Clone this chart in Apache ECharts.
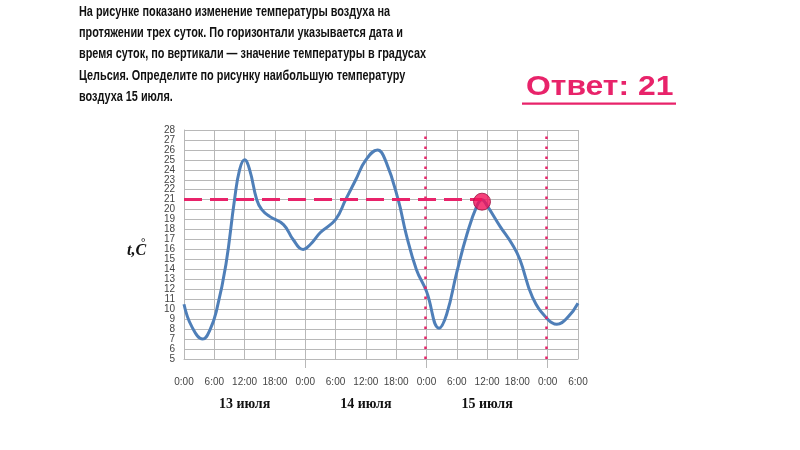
<!DOCTYPE html>
<html>
<head>
<meta charset="utf-8">
<script src="https://cdn.jsdelivr.net/npm/echarts@6/dist/echarts.min.js"></script>
<style>html,body{margin:0;padding:0;background:#fff}#c{width:800px;height:450px}</style>
</head>
<body>
<div id="c"></div>
<script>
// Data (hours since 0:00 13 July, temperature °C)
var hours = [0, 1.5, 3.7, 5.2, 6.5, 8.3, 10, 11, 12, 13, 14.4, 15.4, 17, 19.7, 21.6, 23.6, 25, 27, 30, 32, 34, 36, 38.3, 40, 42.4, 44, 46, 48, 50.5, 52, 54, 56, 58, 59, 60, 62.6, 65, 66.5, 69, 72, 73.8, 76, 78];
var temps = [10.5, 8.3, 7, 8, 10, 14.5, 21, 24, 25, 24, 21, 20, 19.3, 18.5, 17, 16, 16.5, 17.7, 19, 21, 23, 25, 26, 24.8, 21, 17.5, 14, 11.8, 8.1, 9.5, 13.7, 17.5, 20.4, 21, 20.4, 18.3, 16.5, 15, 11.2, 9, 8.5, 9.2, 10.6];
var answerPoint = [59, 20.8];
var answerValue = 21;
var dayBoundaries = [48, 72];
var dayLabels = ['13 июля', '14 июля', '15 июля'];
var dayLabelHours = [12, 36, 60];
var titleLines = [
  'На рисунке показано изменение температуры воздуха на',
  'протяжении трех суток. По горизонтали указывается дата и',
  'время суток, по вертикали — значение температуры в градусах',
  'Цельсия. Определите по рисунку наибольшую температуру',
  'воздуха 15 июля.'
];
var answerText = 'Ответ: 21';

var chart = echarts.init(document.getElementById('c'));
var pink = '#e8236a';
var series = [{
  type: 'line',
  data: hours.map(function (h, i) { return [h, temps[i]]; }),
  smooth: 0.45,
  showSymbol: false,
  lineStyle: { color: '#4f7fb8', width: 3 },
  z: 3,
  markLine: {
    silent: true,
    symbol: 'none',
    label: { show: false },
    data: [
      [{ coord: [0, answerValue] }, { coord: [answerPoint[0], answerValue] }]
    ],
    lineStyle: { color: pink, width: 3, type: [18, 8] },
    animation: false
  }
}, {
  type: 'line',
  data: [],
  markLine: {
    silent: true,
    symbol: 'none',
    label: { show: false },
    data: dayBoundaries.map(function (d) { return [{ coord: [d - 0.25, 5] }, { coord: [d - 0.25, 28] }]; }),
    lineStyle: { color: pink, width: 2.5, type: [2.5, 7.5] },
    animation: false
  }
}, {
  type: 'scatter',
  data: [answerPoint],
  symbolSize: 17,
  itemStyle: { color: '#f2105a', borderColor: '#9a1040', borderWidth: 1 },
  z: 5
}];

var graphics = [];
titleLines.forEach(function (t, i) {
  graphics.push({
    type: 'text', left: 79, top: 4 + i * 21.3, scaleX: 0.725,
    style: { text: t, font: 'bold 15px "Liberation Sans", Arial, sans-serif', fill: '#111' }
  });
});
graphics.push({
  type: 'text', left: 526, top: 74, scaleX: 1.18,
  style: { text: answerText, font: 'bold 27px "Liberation Sans", Arial, sans-serif', fill: pink }
});
graphics.push({
  type: 'rect', shape: { x: 522, y: 102.5, width: 154, height: 2.2 }, style: { fill: pink }
});
graphics.push({
  type: 'text', left: 127, top: 243,
  style: { text: 't,C', font: 'italic bold 16px "Liberation Serif", "DejaVu Serif", serif', fill: '#111' }
});
graphics.push({
  type: 'text', left: 141, top: 238,
  style: { text: '°', font: 'bold 11px "Liberation Serif", serif', fill: '#111' }
});

chart.setOption({
  animation: false,
  grid: { left: 184, right: 222, top: 130, bottom: 91 },
  xAxis: [{
    type: 'value', min: 0, max: 78, interval: 6,
    axisLine: { show: true, lineStyle: { color: '#b8b8b8', width: 1 } },
    axisTick: { show: false },
    splitLine: { show: true, lineStyle: { color: '#b8b8b8', width: 1 } },
    axisLabel: {
      margin: 18, fontSize: 10, color: '#444', fontFamily: 'Liberation Sans, Arial, sans-serif',
      formatter: function (v) { return (v % 24) + ':00'; }
    }
  }, {
    type: 'value', min: 0, max: 78, position: 'bottom',
    axisLine: { show: false },
    axisTick: { show: true, length: 9, customValues: [24, 48, 72], lineStyle: { color: '#b8b8b8' } },
    axisLabel: { show: true, margin: 38, fontSize: 14, fontWeight: 'bold', color: '#111', fontFamily: 'Liberation Serif, serif',
      customValues: dayLabelHours,
      formatter: function (v) { return dayLabels[dayLabelHours.indexOf(v)] || ''; } },
    splitLine: { show: false }
  }],
  yAxis: {
    type: 'value', min: 5, max: 28, interval: 1,
    axisLine: { show: true, lineStyle: { color: '#b8b8b8' } },
    axisTick: { show: false },
    splitLine: { show: true, lineStyle: { color: '#b8b8b8', width: 1 } },
    axisLabel: { margin: 9, fontSize: 10, color: '#444', fontFamily: 'Liberation Sans, Arial, sans-serif' }
  },
  series: series,
  graphic: graphics
});
</script>
</body>
</html>
